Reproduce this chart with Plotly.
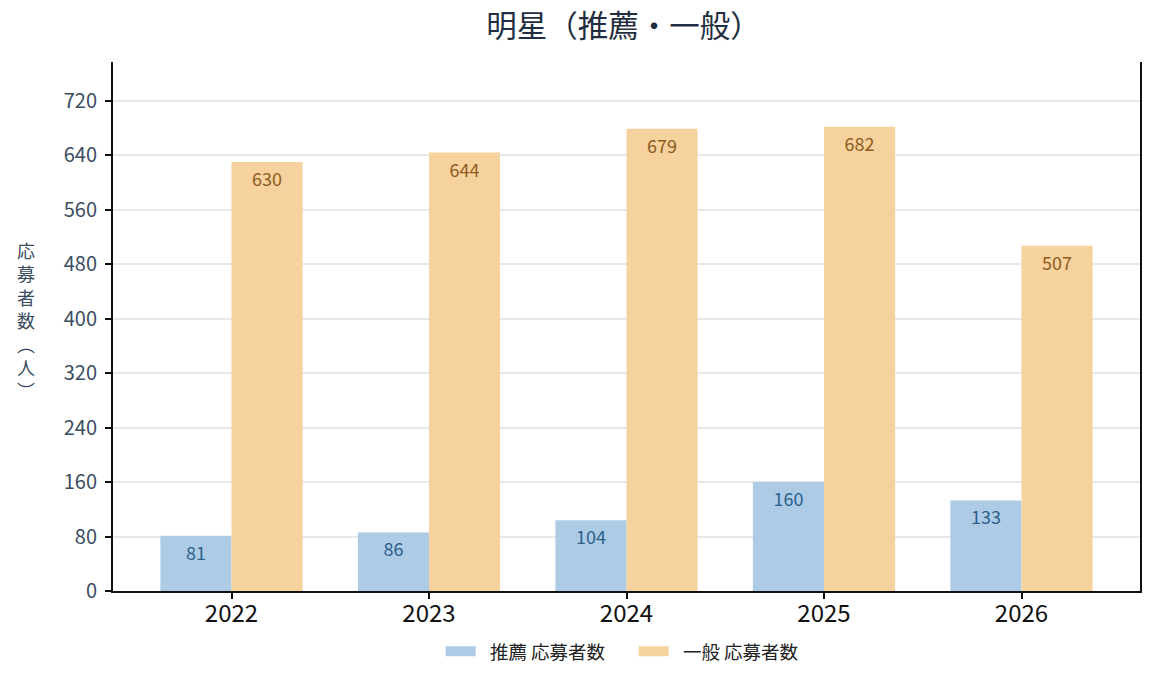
import plotly.graph_objects as go

years = ["2022", "2023", "2024", "2025", "2026"]
suisen = [81, 86, 104, 160, 133]
ippan = [630, 644, 679, 682, 507]
series_names = ["推薦 応募者数", "一般 応募者数"]
title_text = "明星（推薦・一般）"
ytitle_chars = ["応", "募", "者", "数", "︵", "人", "︶"]
ytick_vals = [0, 80, 160, 240, 320, 400, 480, 560, 640, 720]

FONT = "Noto Sans CJK JP, Noto Sans, sans-serif"
BLUE = "#aecbe6"
ORANGE = "#f6d29e"

fig = go.Figure()
fig.add_trace(go.Bar(
    x=years, y=suisen, name=series_names[0], showlegend=False,
    marker=dict(color=BLUE, line=dict(width=0)),
    text=[str(v) for v in suisen], textposition="inside",
    insidetextanchor="end",
    textfont=dict(color="#2b5f8c", size=18, family=FONT),
))
fig.add_trace(go.Bar(
    x=years, y=ippan, name=series_names[1], showlegend=False,
    marker=dict(color=ORANGE, line=dict(width=0)),
    text=[str(v) for v in ippan], textposition="inside",
    insidetextanchor="end",
    textfont=dict(color="#8f5b1c", size=18, family=FONT),
))
# legend entries drawn as wide swatches
for nm, col in zip(series_names, [BLUE, ORANGE]):
    fig.add_trace(go.Scatter(
        x=[None], y=[None], mode="lines", name="\u2002" + nm,
        line=dict(color=col, width=13), hoverinfo="skip",
    ))

fig.update_layout(
    width=1155, height=686,
    barmode="group", bargap=0.28, bargroupgap=0,
    plot_bgcolor="white", paper_bgcolor="white",
    font=dict(family=FONT, color="#3b4d61"),
    margin=dict(l=105, r=23, t=54, b=103),
    title=dict(text=title_text, xref="paper", x=0.497, xanchor="center",
               y=0.973, yanchor="middle",
               font=dict(size=30.5, color="#1f2e40", family=FONT)),
    uniformtext=dict(mode=False),
    legend=dict(orientation="h", x=0.507, xanchor="center", y=-0.115, yanchor="middle",
                font=dict(size=18.5, color="#222222", family=FONT),
                traceorder="normal", itemwidth=30, entrywidth=148,
                entrywidthmode="pixels"),
    xaxis=dict(
        type="category", range=[-0.6, 4.6],
        showline=True, linecolor="#111111", linewidth=2,
        ticks="outside", ticklen=6, tickwidth=2, tickcolor="#111111",
        tickfont=dict(size=24, color="#111111", family=FONT),
        ticklabelstandoff=-6,
        showgrid=False,
    ),
    yaxis=dict(
        range=[0, 777],
        tickvals=ytick_vals,
        showline=True, linecolor="#111111", linewidth=2, mirror=True,
        ticks="outside", ticklen=6, tickwidth=2, tickcolor="#111111",
        tickfont=dict(size=20, color="#3b4d61", family=FONT),
        ticklabelstandoff=4,
        showgrid=True, gridcolor="#e8e8e8", gridwidth=1.5,
        zeroline=False,
    ),
)

fig.add_annotation(
    text="<br>".join(ytitle_chars),
    xref="paper", yref="paper", x=-0.0847, y=0.512,
    xanchor="center", yanchor="middle", showarrow=False,
    font=dict(size=18, color="#3b4d61", family=FONT),
)

fig.write_html("out.html")
